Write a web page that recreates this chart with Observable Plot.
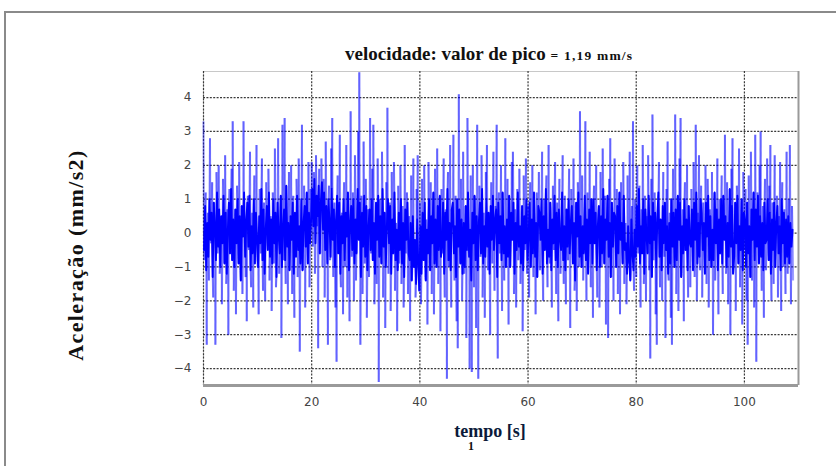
<!DOCTYPE html>
<html><head><meta charset="utf-8">
<script src="https://cdn.jsdelivr.net/npm/d3@7"></script>
<script src="https://cdn.jsdelivr.net/npm/@observablehq/plot@0.6"></script>
<style>
body{margin:0;background:#fff;}
#wrap{position:relative;width:836px;height:466px;overflow:hidden;background:#fff;}
#frame{position:absolute;left:4px;top:11px;width:900px;height:600px;border-left:2px solid #8a8a8a;border-top:2px solid #8a8a8a;box-sizing:border-box;}
#chart{position:absolute;left:0;top:0;}
.lbl{position:absolute;font-family:"Liberation Serif","DejaVu Serif",serif;font-weight:bold;color:#111;white-space:nowrap;}
#title{left:345px;top:43px;font-size:19px;}
#title small{font-size:13.5px;letter-spacing:1.2px;}
#ylab{left:76px;top:255px;font-size:22px;letter-spacing:1.4px;transform:translate(-50%,-50%) rotate(-90deg);}
#xlab{left:490px;top:431px;font-size:18px;transform:translate(-50%,-50%);color:#0b1a3a;}
#one{left:468px;top:440px;font-size:12px;line-height:13px;}
</style>
</head><body>
<div id="wrap">
<div id="frame"></div>
<div id="chart"></div>
<div class="lbl" id="title">velocidade: valor de pico <small>= 1,19 mm/s</small></div>
<div class="lbl" id="ylab">Aceleração (mm/s2)</div>
<div class="lbl" id="xlab">tempo [s]</div>
<div class="lbl" id="one">1</div>
</div>
<script>
const dt = 0.2; // s between the main samples; "core" samples sit half-way between them
const values = [
 3.3,-0.8,1.2,-3.3,0.6,-1.4,2.8,-0.3,1.5,-1.9,
 0.9,-3.3,1.8,-0.6,2.0,-1.2,0.4,-2.1,1.6,-0.9,
 2.3,-1.5,0.7,-3.0,1.3,-0.4,1.9,3.3,-1.7,0.5,
 -2.4,1.4,-0.7,2.1,-1.1,0.8,-1.8,3.3,0.2,-1.3,
 -2.6,1.1,-0.5,2.4,-1.6,0.6,-2.2,1.7,-0.8,2.6,
 -1.0,-2.4,1.3,-0.6,2.2,-1.7,0.9,-2.0,1.5,-0.3,
 1.9,-1.4,0.5,-2.3,1.2,-0.9,2.5,-1.6,0.3,2.8,
 -1.2,0.7,-3.1,3.2,-0.8,3.4,-1.5,0.6,-2.1,1.8,
 -0.7,2.0,-1.8,1.1,-2.5,0.4,1.6,-1.3,2.2,-3.5,
 0.8,3.2,-1.1,1.4,-2.2,0.9,-0.5,2.1,-1.6,1.3,
 2.1,-0.4,1.8,-1.2,2.3,0.2,-3.4,1.9,-0.6,2.2,
 -1.0,1.6,-1.9,2.7,0.1,-3.3,1.4,-0.8,2.5,3.4,
 -1.3,0.9,-2.2,-3.8,1.7,-0.5,2.9,-1.6,0.6,-2.4,
 1.5,-1.0,2.6,-1.9,0.8,-2.6,3.6,-0.7,1.2,-2.0,
 2.3,-1.4,0.5,3.0,4.75,-3.3,1.1,-1.8,2.7,-0.9,
 1.6,-2.5,0.7,-1.3,3.4,-0.6,1.9,3.2,-2.1,0.4,
 -1.5,2.2,-4.4,1.0,-0.8,2.4,-1.9,0.6,-2.8,1.5,
 3.7,-1.2,0.9,-2.3,1.8,-0.5,2.1,-1.7,0.3,-2.9,
 1.4,-0.9,2.0,-1.5,0.8,-2.2,2.6,-0.6,1.2,-1.8,
 0.5,-2.6,1.7,-1.1,2.2,-0.4,-1.9,1.3,2.3,-1.4,
 0.9,-2.1,1.6,-0.7,2.0,-1.3,0.4,-2.7,2.1,-0.9,
 1.5,-1.8,0.6,-2.4,1.9,-0.3,2.5,-1.5,1.0,-2.9,
 1.3,-0.6,2.2,-1.9,0.7,-4.3,1.8,-1.0,2.6,-2.2,
 0.5,2.9,-1.4,1.1,-2.6,-3.4,4.1,-0.8,1.6,-2.0,
 2.4,-1.2,0.8,-3.1,3.4,-0.5,-4.0,1.7,-4.1,2.0,
 -1.6,0.9,-2.8,3.2,-4.3,1.4,-0.7,2.3,-1.9,0.6,
 -2.5,1.8,2.6,-1.1,0.4,-3.0,1.5,-0.9,2.4,-1.7,
 0.8,3.2,-3.7,1.2,-0.6,2.0,-2.3,0.5,-1.4,2.8,
 -1.0,1.6,-2.7,0.9,-0.4,2.1,2.4,-1.8,0.7,-2.2,
 1.3,-0.8,1.9,-1.5,0.6,-2.9,1.7,-0.5,2.2,-1.2,
 0.8,-1.9,1.5,-0.7,2.0,-1.3,0.4,-2.4,1.2,-0.6,
 1.8,-1.1,0.5,2.4,-2.0,1.0,-0.3,1.7,-1.6,2.6,
 -0.9,0.7,-2.2,1.4,-0.5,2.1,-1.8,0.9,-2.6,1.6,
 -1.2,0.3,2.3,-1.5,1.1,-2.1,0.6,-0.8,1.9,-2.8,
 1.3,-0.4,2.2,-1.7,0.8,-2.3,1.5,-1.0,3.6,-0.6,
 1.7,-1.4,0.5,3.3,-2.0,1.2,-0.7,2.4,-1.6,0.9,
 -2.5,1.4,-0.3,2.0,-1.9,0.6,-2.2,1.8,-1.0,2.5,
 -0.8,1.1,-2.7,0.4,-3.1,1.6,2.8,-1.3,0.7,-2.0,
 2.2,-0.5,1.3,-1.8,0.9,-2.4,1.5,-0.6,2.1,-1.5,
 0.3,-2.1,1.7,-0.9,2.4,-1.2,0.8,3.3,-1.7,1.0,
 -1.3,2.0,-0.6,1.4,-2.2,0.7,2.6,-1.5,1.1,-2.0,
 0.5,2.3,-1.1,-3.7,1.6,3.5,-0.8,1.2,-2.4,-3.3,
 0.9,2.1,-1.6,0.4,-2.0,1.8,-0.7,-3.1,1.3,2.7,
 -1.4,0.6,-2.5,-3.3,1.9,-0.9,3.5,-1.8,1.0,-2.3,
 2.2,3.4,-1.2,0.7,-2.6,1.5,-0.5,2.0,-1.9,0.8,
 -1.6,1.3,-0.4,2.1,-1.3,3.2,-2.0,0.6,2.3,-1.1,
 1.4,-1.9,0.9,-0.5,2.0,-1.5,1.6,-2.2,0.7,-0.8,
 1.8,-3.0,1.2,-1.4,0.5,2.2,-2.4,1.0,-0.6,1.7,
 -1.8,0.8,2.9,-1.2,1.5,-2.1,0.4,-3.0,1.9,2.8,
 -1.0,0.6,-2.3,1.4,-0.7,2.5,-1.6,0.9,-2.7,1.8,
 -0.5,1.3,-2.0,-3.3,1.7,-0.8,2.4,-1.4,0.6,-2.2,
 2.9,-3.8,1.2,-0.9,2.0,3.0,-1.7,0.8,-2.5,1.6,
 -1.1,2.2,-0.6,1.4,2.6,-2.0,0.9,-1.5,2.3,-0.4,
 1.1,-1.9,0.5,2.1,-2.3,1.5,-1.0,0.7,-1.8,2.4,
 -1.2,1.0,2.6,-2.1,0.8,-1.4
];
const core = [
 -0.5,0.8,-1.1,0.3,-0.7,1.0,-0.2,0.6,-1.3,0.9,
 0.2,-0.8,1.2,-0.4,0.7,-1.0,0.5,-0.3,1.1,-0.9,
 0.6,-1.2,0.1,0.9,-0.6,1.3,-0.8,0.4,-1.0,0.7,
 -0.3,1.0,-0.9,0.5,-1.4,0.8,-0.1,1.2,-0.7,0.3,
 0.9,-0.4,1.1,-1.1,0.2,-0.6,1.0,-0.9,0.6,-0.2,
 -1.0,0.5,-0.3,1.3,-0.8,0.7,-1.2,0.1,0.8,-0.5,
 1.2,-0.7,0.4,-0.9,1.0,-0.3,0.6,-1.3,0.9,-0.1,
 -0.6,1.1,-1.0,0.2,0.7,-0.8,1.4,-0.4,0.3,-1.1,
 0.5,-0.2,0.9,-1.2,0.6,-0.7,1.1,-0.5,0.2,-0.9,
 1.0,-1.1,0.3,0.8,-0.4,1.2,-0.9,0.6,-0.3,0.4,
 1.3,0.2,1.6,-0.3,1.1,0.5,1.4,-0.6,0.9,1.5,
 0.1,1.2,-0.5,0.8,-0.9,1.0,0.3,-0.7,1.3,-0.2,
 0.7,-1.0,0.4,1.1,-0.6,0.9,-1.2,0.5,-0.3,1.0,
 -0.8,0.6,-0.1,1.2,-1.1,0.3,0.8,-0.5,1.0,-0.9,
 0.4,-0.6,1.3,-0.2,0.9,-1.3,0.6,-0.4,1.1,-0.7,
 0.8,-1.1,0.2,0.7,-0.5,1.0,-0.8,0.3,-1.2,0.9,
 -0.2,1.1,-0.7,0.5,-0.9,1.3,-0.4,0.6,-1.0,0.2,
 1.0,-0.3,0.8,-1.2,0.4,-0.6,1.2,-0.8,0.1,-1.1,
 0.6,-0.5,1.0,-0.9,0.3,-1.3,0.7,-0.2,0.9,-0.6,
 -0.8,0.3,-1.4,0.5,-1.0,-0.2,-1.5,0.4,-0.9,-1.7,
 0.2,-1.2,0.6,-0.8,0.9,-1.4,0.1,-0.6,1.0,-1.1,
 0.5,-0.3,1.2,-0.9,0.4,-1.0,0.8,-0.5,1.1,-0.7,
 -0.4,0.9,-1.2,0.6,-0.2,1.3,-0.8,0.3,-1.1,0.7,
 0.9,-0.6,0.2,-1.3,1.0,-0.4,0.7,-0.9,0.4,-1.2,
 0.3,-1.0,0.8,-0.5,1.2,-0.7,0.1,-1.4,0.6,-0.3,
 1.1,-0.8,0.5,-1.1,0.3,0.9,-0.6,1.3,-0.9,0.2,
 -0.7,1.0,-0.4,0.6,-1.2,0.8,-0.2,1.1,-0.5,0.4,
 0.7,-1.3,0.9,-0.3,0.5,-0.8,1.2,-0.6,0.2,-1.0,
 0.4,-0.7,1.1,-1.0,0.6,-0.2,0.9,-1.2,0.3,-0.5,
 1.2,-0.4,0.2,-0.9,0.8,-1.1,0.5,-0.3,1.0,-0.8,
 -0.1,0.9,-1.0,0.4,-0.6,1.2,-0.7,0.3,-1.3,0.8,
 0.6,-0.2,1.0,-1.2,0.5,-0.5,1.3,-0.9,0.1,-0.7,
 0.9,-1.1,0.4,-0.3,1.1,-0.8,0.6,-1.0,0.7,-0.2,
 -0.5,1.2,-0.8,0.2,-1.1,0.7,-0.4,1.0,-0.6,0.3,
 0.8,-0.9,0.3,-1.4,0.9,-0.1,1.2,-0.7,0.5,-1.0,
 0.2,-0.6,1.1,-0.8,0.4,-1.2,0.7,-0.3,1.0,-0.9,
 1.0,-0.3,0.6,-1.1,0.2,0.8,-1.0,0.5,-0.6,1.3,
 -0.9,0.4,-0.2,1.1,-0.7,0.3,-1.3,0.9,-0.4,0.6,
 0.5,-1.0,0.8,-0.6,1.2,-0.2,0.3,-0.9,1.1,-0.5,
 -0.3,-1.2,0.2,-0.8,-1.4,0.4,-0.6,-1.1,0.1,-0.7,
 0.8,-0.4,1.3,-0.9,0.2,-0.6,1.0,-1.2,0.7,-0.1,
 -0.6,1.1,-0.3,0.5,-1.3,0.9,-0.2,0.6,-1.0,0.4,
 1.2,-0.7,0.4,-1.1,0.8,-0.3,0.9,-0.5,0.2,-1.2,
 0.3,-0.9,1.0,-0.4,0.6,-1.0,0.7,-0.8,1.1,-0.2,
 0.9,-1.3,0.2,-0.6,1.0,-0.5,0.4,-1.1,0.8,-0.3,
 -0.4,0.7,-1.1,0.9,-0.2,1.2,-0.9,0.3,-0.7,1.0,
 0.6,-0.5,0.3,-1.2,0.9,-0.1,1.1,-0.8,0.5,-1.0,
 0.1,-0.8,1.2,-0.3,0.7,-1.1,0.4,-0.6,1.0,-0.9,
 1.1,-0.2,0.5,-1.0,0.3,-0.7,1.3,-0.4,0.8,-1.2,
 -0.7,0.9,-0.3,1.1,-0.9,0.2,-0.5,1.0,-1.1,0.6,
 0.4,-1.0,0.9,-0.6,0.2,-1.3,0.7,-0.2,1.2,-0.8,
 0.7,-0.4,1.1,-0.9,0.5,-0.7,0.3,-1.1,0.9,-0.3,
 -0.2,1.0,-0.8,0.6,-1.2,0.4,-0.5,0.9,-1.0,0.3,
 0.8,-0.6,0.2,-1.1,1.0,-0.3,0.6,-0.9,0.4,-0.7,
 0.5,-0.9,0.3,-0.4,0.1
];
const xTicks = [0, 20, 40, 60, 80, 100];
const yTicks = [-4, -3, -2, -1, 0, 1, 2, 3, 4];
const xDomain = [0, 110];
const yDomain = [-4.5, 4.77];

// interleave the two sampled series into one time signal
const signal = [];
values.forEach((v, i) => {
  signal.push({t: i * dt, v});
  if (i < core.length) signal.push({t: i * dt + dt / 2, v: core[i]});
});
const segments = signal.slice(1).map((d, i) => ({x1: signal[i].t, y1: signal[i].v, x2: d.t, y2: d.v}));
const coreSeries = core.map((v, i) => ({t: i * dt + dt / 2, v}));

const chart = Plot.plot({
  width: 836, height: 466,
  marginLeft: 203, marginRight: 38, marginTop: 71, marginBottom: 81,
  style: {background: "transparent", overflow: "visible"},
  x: {domain: xDomain},
  y: {domain: yDomain},
  marks: [
    Plot.ruleY([yDomain[1]], {stroke: "#c8c8c8", strokeWidth: 1}),
    Plot.ruleX([xDomain[0]], {stroke: "#c8c8c8", strokeWidth: 1}),
    Plot.gridY(yTicks, {stroke: "#3a3a3a", strokeOpacity: 1, strokeWidth: 1.2, strokeDasharray: "2,1.4"}),
    Plot.gridX(xTicks, {stroke: "#3a3a3a", strokeOpacity: 1, strokeWidth: 1.2, strokeDasharray: "2,1.4"}),
    Plot.link(segments, {x1: "x1", y1: "y1", x2: "x2", y2: "y2", stroke: "#0000ff", strokeOpacity: 0.38, strokeWidth: 2}),
    Plot.line(coreSeries, {x: "t", y: "v", stroke: "#0000ff", strokeOpacity: 1, strokeWidth: 1.9}),
    Plot.ruleY([yDomain[0]], {stroke: "#9a9a9a", strokeWidth: 3}),
    Plot.ruleX([xDomain[1]], {stroke: "#9a9a9a", strokeWidth: 2}),
    Plot.axisY(yTicks, {tickSize: 0, tickPadding: 12, fontSize: 12, fill: "#444", fontFamily: "DejaVu Sans", label: null}),
    Plot.axisX(xTicks, {tickSize: 0, tickPadding: 12, fontSize: 12, fill: "#444", fontFamily: "DejaVu Sans", label: null})
  ]
});
document.getElementById("chart").appendChild(chart);
</script>
</body></html>
